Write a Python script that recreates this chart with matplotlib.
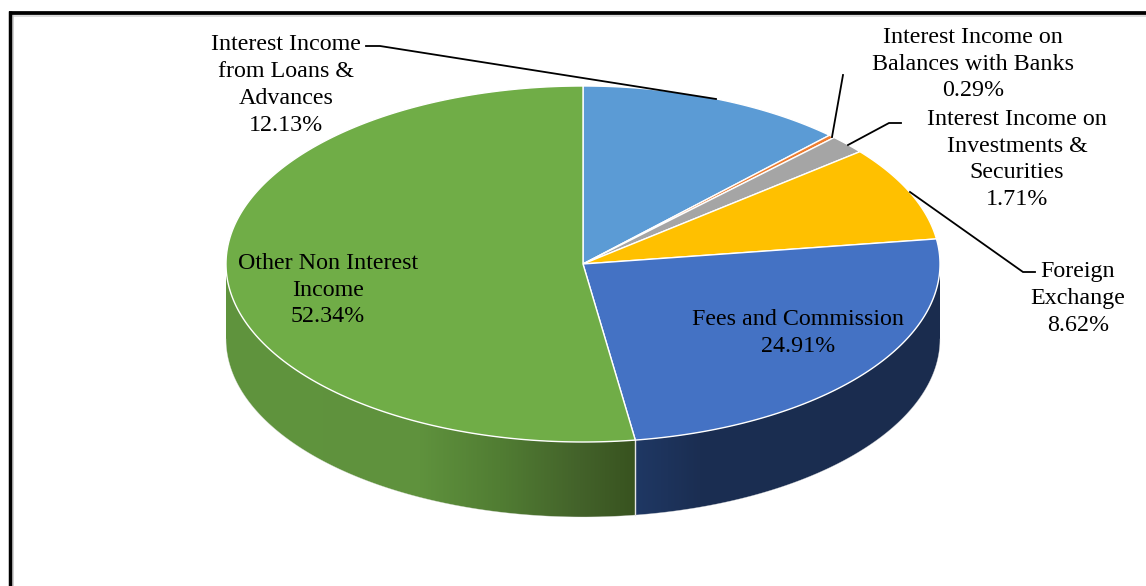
import numpy as np
import matplotlib
matplotlib.use("Agg")
import matplotlib.pyplot as plt
from matplotlib.patches import Polygon
from matplotlib.colors import to_rgb

# Income composition, percent of total, clockwise from twelve o'clock
categories = [
    "Interest Income\nfrom Loans &\nAdvances",
    "Interest Income on\nBalances with Banks",
    "Interest Income on\nInvestments &\nSecurities",
    "Foreign\nExchange",
    "Fees and Commission",
    "Other Non Interest\nIncome",
]
shares = [12.13, 0.29, 1.71, 8.62, 24.91, 52.34]
colors = ["#5b9bd5", "#ed7d31", "#a5a5a5", "#ffc000", "#4472c4", "#70ad47"]

# Label block centres
label_pos = [(286, 85), (973, 64), (1017, 159.5), (1078, 298.5), (798, 333), (328, 290)]
# Leader lines, data-space polylines
leaders = {
    0: [(366, 46), (380, 46), (716, 99)],
    1: [(843, 75), (832, 137)],
    2: [(901, 123), (889, 123), (848, 145)],
    3: [(1035, 272), (1023, 272), (910, 192)],
}

# Wall shading stops per visible slice: x position, colour
wall_shades = {
    4: ([635, 700, 940], ["#1f3864", "#1b2e52", "#1a2c4e"]),
    5: ([225, 420, 500, 580, 635], ["#60943e", "#5f923d", "#517d33", "#43622a", "#38531f"]),
}

CX, CY, RX, RY, DEPTH = 583, 264, 357, 178, 75

plt.rcParams["font.family"] = ["Liberation Serif", "DejaVu Serif"]
fig = plt.figure(figsize=(11.46, 5.86), dpi=100)
ax = fig.add_axes([0, 0, 1, 1])


def rim(theta):
    return CX + RX * np.sin(theta), CY - RY * np.cos(theta)


edges = np.concatenate([[0], np.cumsum(shares)]) / 100 * 2 * np.pi

# Front wall, only where the rim faces the viewer
for i, (a, b) in enumerate(zip(edges[:-1], edges[1:])):
    lo, hi = max(a, np.pi / 2), min(b, 3 * np.pi / 2)
    if hi <= lo:
        continue
    t = np.linspace(lo, hi, 300)
    x, y = rim(t)
    outline = np.column_stack([np.r_[x, x[::-1]], np.r_[y, y[::-1] + DEPTH]])
    patch = Polygon(outline, closed=True, facecolor="none", edgecolor="none", zorder=2)
    ax.add_patch(patch)
    xs, cs = wall_shades[i]
    rgb = np.array([to_rgb(c) for c in cs])
    grid = np.arange(int(x.min()) - 2, int(x.max()) + 3)
    strip = np.stack([np.interp(grid, xs, rgb[:, k]) for k in range(3)], axis=-1)[None, :, :]
    im = ax.imshow(strip, extent=(grid[0], grid[-1], y.max() + DEPTH + 2, y.min() - 2),
                   aspect="auto", interpolation="bilinear", zorder=2)
    im.set_clip_path(patch)
    ax.plot(x, y + DEPTH, color="#e6e6e6", lw=0.4, alpha=0.6, zorder=2.5)
    if i == 4:
        ex, ey = rim(hi)
        ax.plot([ex, ex], [ey, ey + DEPTH], color="#e4e4e4", lw=1.0, zorder=3)

# Top face
for i, (a, b) in enumerate(zip(edges[:-1], edges[1:])):
    t = np.linspace(a, b, 200)
    x, y = rim(t)
    verts = np.column_stack([np.r_[CX, x], np.r_[CY, y]])
    ax.add_patch(Polygon(verts, closed=True, facecolor=colors[i], edgecolor="white",
                         lw=1.0, joinstyle="round", zorder=4))

# Labels and their leader lines
for i, (name, share, (lx, ly)) in enumerate(zip(categories, shares, label_pos)):
    ax.text(lx, ly, f"{name}\n{share:.2f}%", ha="center", va="center", ma="center",
            fontsize=17.3, linespacing=1.37, color="black", zorder=6)
for pts in leaders.values():
    px, py = zip(*pts)
    ax.plot(px, py, color="black", lw=1.3, solid_joinstyle="miter", zorder=5)

# Frame: heavy top and left rules with a faint inner shadow
ax.plot([8.5, 1146], [13, 13], color="black", lw=2.7, solid_capstyle="butt", zorder=8)
ax.plot([10, 10], [11, 586], color="black", lw=2.5, solid_capstyle="butt", zorder=8)
ax.plot([12, 1146], [15.7, 15.7], color="#dcdcdc", lw=1.4, solid_capstyle="butt", zorder=7)
ax.plot([12.5, 12.5], [15, 586], color="#c8c8c8", lw=1.2, solid_capstyle="butt", zorder=7)

ax.set_xlim(0, 1146)
ax.set_ylim(586, 0)
ax.axis("off")

fig.savefig("out.png", dpi=100, facecolor="white")
